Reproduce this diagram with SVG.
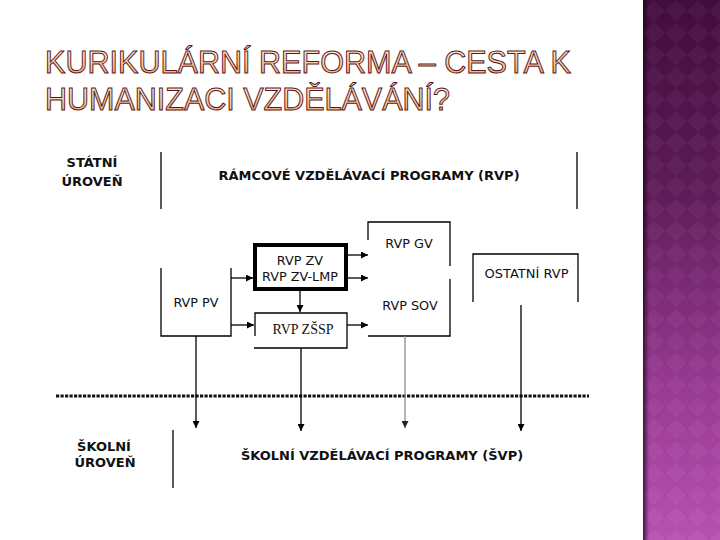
<svg xmlns="http://www.w3.org/2000/svg" width="720" height="540" viewBox="0 0 720 540">
  <defs>
    <linearGradient id="side" x1="0" y1="0" x2="0" y2="1">
      <stop offset="0" stop-color="#420c3d"/>
      <stop offset="0.35" stop-color="#5e1b58"/>
      <stop offset="0.7" stop-color="#963890"/>
      <stop offset="1" stop-color="#b850b2"/>
    </linearGradient>
    <linearGradient id="sideEdge" x1="0" y1="0" x2="1" y2="0">
      <stop offset="0" stop-color="#1e0419" stop-opacity="0.75"/>
      <stop offset="1" stop-color="#1e0419" stop-opacity="0"/>
    </linearGradient>
    <pattern id="diam" width="22" height="22" patternUnits="userSpaceOnUse" x="643" y="0">
      <path d="M11,0 L22,11 L11,22 L0,11 Z" fill="#ffffff" fill-opacity="0.04" stroke="#000000" stroke-opacity="0.06" stroke-width="1"/>
    </pattern>
    <linearGradient id="titleFill" x1="0" y1="0" x2="0" y2="1">
      <stop offset="0" stop-color="#fff4ea"/>
      <stop offset="0.5" stop-color="#fbd3ad"/>
      <stop offset="1" stop-color="#f2a25c"/>
    </linearGradient>
    <marker id="ah" viewBox="0 0 8 8" refX="8" refY="4" markerWidth="7" markerHeight="7" markerUnits="userSpaceOnUse" orient="auto">
      <path d="M0,0 L8,4 L0,8 Z" fill="#000"/>
    </marker>
    <marker id="ahg" viewBox="0 0 8 8" refX="8" refY="4" markerWidth="7" markerHeight="7" markerUnits="userSpaceOnUse" orient="auto">
      <path d="M0,0 L8,4 L0,8 Z" fill="#222"/>
    </marker>
  </defs>
  <style>
    .title { font-family: "Liberation Sans", "DejaVu Sans", sans-serif; font-size: 32px; fill: url(#titleFill); stroke: #5a1722; stroke-width: 1; }
    .lvl { font-family: "DejaVu Sans", Verdana, sans-serif; font-weight: bold; font-size: 13px; fill: #111; text-anchor: middle; }
    .lbl { font-family: "DejaVu Sans", Verdana, sans-serif; font-size: 12.8px; fill: #111; text-anchor: middle; }
    .ser { font-family: "Liberation Serif", "Times New Roman", serif; font-size: 14px; fill: #111; text-anchor: middle; }
    .ln { stroke: #000; stroke-width: 1.3; fill: none; }
    .arr { stroke: #000; stroke-width: 1.3; fill: none; marker-end: url(#ah); }
    .arrg { stroke: #8a8a8a; stroke-width: 1.3; fill: none; marker-end: url(#ahg); }
  </style>

  <rect x="0" y="0" width="720" height="540" fill="#ffffff"/>

  <!-- side band -->
  <g id="sideband">
    <rect x="643" y="0" width="77" height="540" fill="url(#side)"/>
    <rect x="643" y="0" width="77" height="540" fill="url(#diam)"/>
    <rect x="643" y="0" width="6" height="540" fill="url(#sideEdge)"/>
  </g>

  <!-- title -->
  <g id="title">
    <text class="title" x="45" y="73" textLength="526" lengthAdjust="spacingAndGlyphs">KURIKULÁRNÍ REFORMA – CESTA K</text>
    <text class="title" x="45" y="110" textLength="405" lengthAdjust="spacingAndGlyphs">HUMANIZACI VZDĚLÁVÁNÍ?</text>
  </g>

  <!-- level labels -->
  <g id="statni-uroven">
    <text class="lvl" x="92" y="167">STÁTNÍ</text>
    <text class="lvl" x="92" y="186">ÚROVEŇ</text>
  </g>
  <g id="rvp-header">
    <line class="ln" x1="161" y1="152" x2="161" y2="209"/>
    <line class="ln" x1="577" y1="152" x2="577" y2="209"/>
    <text class="lvl" x="369" y="180">RÁMCOVÉ VZDĚLÁVACÍ PROGRAMY (RVP)</text>
  </g>

  <!-- boxes -->
  <g id="rvp-pv">
    <path class="ln" d="M161,268 L161,336 L231,336 L231,268"/>
    <text class="lbl" x="196" y="307">RVP PV</text>
  </g>
  <g id="rvp-zv">
    <rect x="255" y="245" width="91" height="44" fill="none" stroke="#000" stroke-width="4"/>
    <text class="lbl" x="300" y="265">RVP ZV</text>
    <text class="lbl" x="300" y="281">RVP ZV-LMP</text>
  </g>
  <g id="rvp-zssp">
    <path class="ln" d="M255,336 L255,313 L347,313 L347,348 L254,348"/>
    <text class="ser" x="303" y="334">RVP ZŠSP</text>
  </g>
  <g id="rvp-gv-sov">
    <path class="ln" d="M368,240 L368,222 L450,222 L450,266"/>
    <path class="ln" d="M450,279 L450,336 L368,336"/>
    <text class="lbl" x="409" y="247.5">RVP GV</text>
    <text class="lbl" x="410" y="310">RVP SOV</text>
  </g>
  <g id="ostatni-rvp">
    <path class="ln" d="M473,302 L473,254 L578,254 L578,302"/>
    <text class="lbl" x="526.5" y="278" style="font-size:13px">OSTATNÍ RVP</text>
  </g>

  <!-- separator -->
  <g id="separator">
    <line x1="56" y1="396" x2="589" y2="396" stroke="#111" stroke-width="3" stroke-dasharray="3.2 1.3"/>
  </g>

  <g id="skolni-uroven">
    <text class="lvl" x="104" y="451">ŠKOLNÍ</text>
    <text class="lvl" x="105" y="467">ÚROVEŇ</text>
  </g>
  <g id="svp">
    <line class="ln" x1="173" y1="430" x2="173" y2="488"/>
    <text class="lvl" x="382" y="460">ŠKOLNÍ VZDĚLÁVACÍ PROGRAMY (ŠVP)</text>
  </g>

  <!-- connectors -->
  <g id="connectors">
    <line class="arr" x1="231" y1="278" x2="253" y2="278"/>
    <line class="arr" x1="231" y1="325" x2="254" y2="325"/>
    <line class="arr" x1="348" y1="255" x2="368" y2="255"/>
    <line class="arr" x1="348" y1="278" x2="368" y2="278"/>
    <line class="arr" x1="347" y1="325" x2="368" y2="325"/>
    <line class="arr" x1="300" y1="291" x2="300" y2="312"/>
    <line class="arr" x1="196" y1="336" x2="196" y2="428"/>
    <line class="arr" x1="301" y1="348" x2="301" y2="431"/>
    <line class="arrg" x1="405" y1="336" x2="405" y2="428"/>
    <line class="arr" x1="521" y1="305" x2="521" y2="431"/>
  </g>
</svg>
